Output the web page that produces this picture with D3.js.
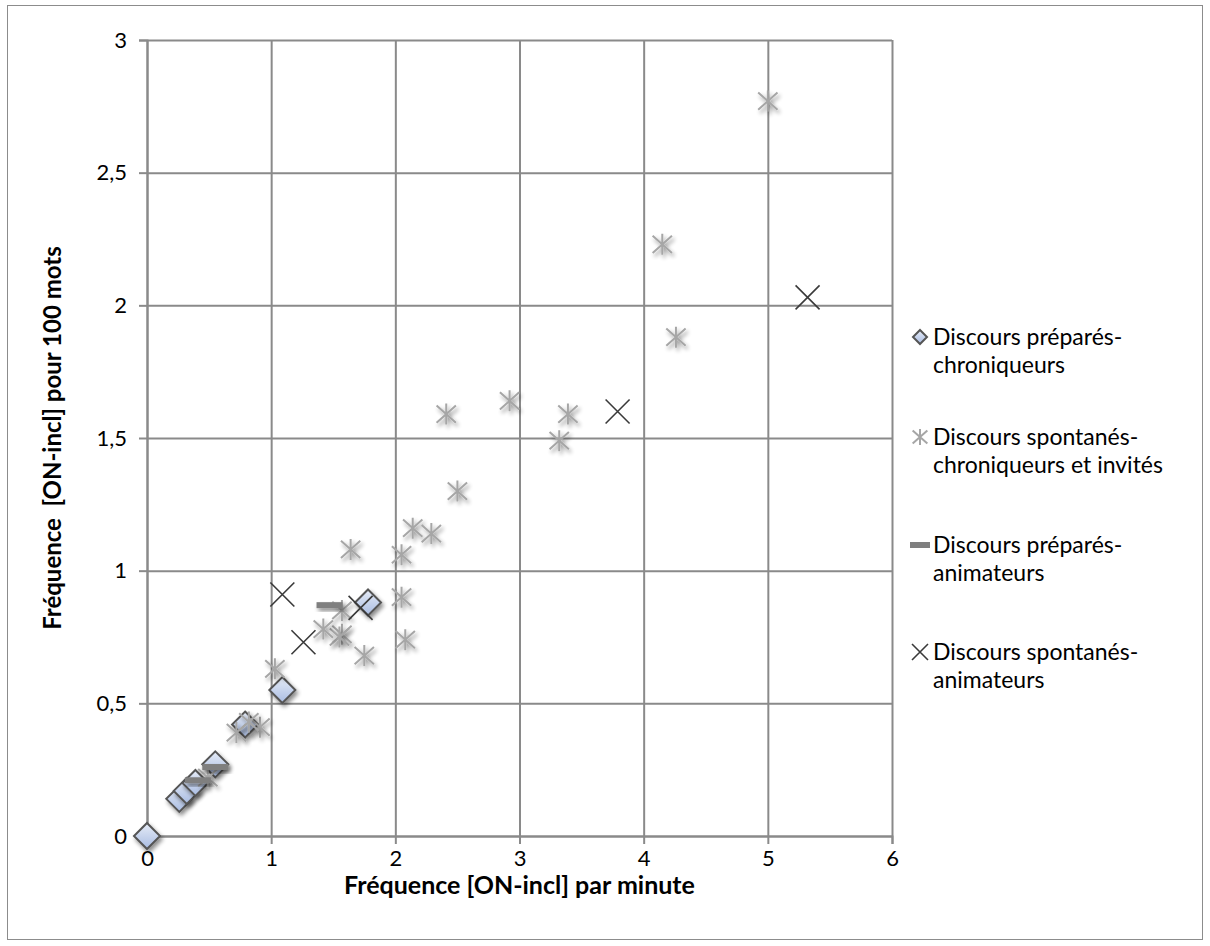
<!DOCTYPE html>
<html><head><meta charset="utf-8">
<script src="https://cdn.jsdelivr.net/npm/d3@7"></script>
<style>body{margin:0;background:#fff;} svg{display:block;font-family:Lato,'Open Sans',sans-serif;}</style>
</head><body><svg id="c" width="1210" height="946"></svg>
<script>
// ---- data ----
const seriesNames = [
  ["Discours préparés-", "chroniqueurs"],
  ["Discours spontanés-", "chroniqueurs et invités"],
  ["Discours préparés-", "animateurs"],
  ["Discours spontanés-", "animateurs"]
];
const prepChronX = [0, 0.26, 0.32, 0.39, 0.55, 0.79, 1.09, 1.78];
const prepChronY = [0, 0.14, 0.17, 0.20, 0.27, 0.42, 0.55, 0.88];
const spontChronX = [5.00, 4.15, 4.26, 2.41, 2.92, 3.39, 3.32, 2.50, 2.14, 2.29, 2.05, 1.64, 2.05, 2.08, 1.75, 1.57, 1.55, 1.57, 1.42, 1.03, 0.72, 0.91, 0.82, 0.49];
const spontChronY = [2.77, 2.23, 1.88, 1.59, 1.64, 1.59, 1.49, 1.30, 1.16, 1.14, 1.06, 1.08, 0.90, 0.74, 0.68, 0.76, 0.75, 0.85, 0.78, 0.63, 0.39, 0.41, 0.43, 0.22];
const prepAnimX = [0.41, 0.55, 1.47];
const prepAnimY = [0.21, 0.26, 0.87];
const spontAnimX = [5.32, 3.79, 1.09, 1.26, 1.72];
const spontAnimY = [2.03, 1.60, 0.91, 0.73, 0.86];
const xTicks = [0, 1, 2, 3, 4, 5, 6];
const xTickLabels = ["0", "1", "2", "3", "4", "5", "6"];
const yTicks = [0, 0.5, 1, 1.5, 2, 2.5, 3];
const yTickLabels = ["0", "0,5", "1", "1,5", "2", "2,5", "3"];
const xTitle = "Fréquence [ON-incl] par minute";
const yTitle = "Fréquence  [ON-incl] pour 100 mots";

// ---- layout ----
const svg = d3.select("#c");
const L = 147, R = 892, T = 40, B = 836;
const x = d3.scaleLinear().domain([0, 6]).range([L, R]);
const y = d3.scaleLinear().domain([0, 3]).range([B, T]);
const gridCol = "#8a8a8a";

const defs = svg.append("defs");
const f = defs.append("filter").attr("id", "sh").attr("x", "-60%").attr("y", "-60%").attr("width", "220%").attr("height", "220%");
f.append("feGaussianBlur").attr("in", "SourceAlpha").attr("stdDeviation", 2.2).attr("result", "b");
f.append("feOffset").attr("in", "b").attr("dx", 2).attr("dy", 3).attr("result", "o");
f.append("feComponentTransfer").attr("in", "o").attr("result", "s").append("feFuncA").attr("type", "linear").attr("slope", 0.45);
const fm = f.append("feMerge");
fm.append("feMergeNode").attr("in", "s");
fm.append("feMergeNode").attr("in", "SourceGraphic");
const g1 = defs.append("linearGradient").attr("id", "dg").attr("x1", 0).attr("y1", 0).attr("x2", 0).attr("y2", 1);
g1.append("stop").attr("offset", "0%").attr("stop-color", "#e6ecf7");
g1.append("stop").attr("offset", "100%").attr("stop-color", "#a9bce2");

// outer frame
svg.append("rect").attr("x", 7.5).attr("y", 5.5).attr("width", 1195).attr("height", 934)
  .attr("fill", "#fff").attr("stroke", "#8c8c8c").attr("stroke-width", 1);

// grid via axes
const xGrid = svg.append("g").attr("transform", `translate(0,${B})`)
  .call(d3.axisBottom(x).tickValues(xTicks).tickSize(-(B - T)).tickFormat(""));
const yGrid = svg.append("g").attr("transform", `translate(${L},0)`)
  .call(d3.axisLeft(y).tickValues(yTicks).tickSize(-(R - L)).tickFormat(""));
[xGrid, yGrid].forEach(g => { g.select(".domain").remove(); g.selectAll("line").attr("stroke", gridCol).attr("stroke-width", 2); });

// axes with ticks
const xAx = svg.append("g").attr("transform", `translate(0,${B})`)
  .call(d3.axisBottom(x).tickValues(xTicks).tickSize(8).tickPadding(6).tickFormat((d, i) => xTickLabels[i]));
const yAx = svg.append("g").attr("transform", `translate(${L},0)`)
  .call(d3.axisLeft(y).tickValues(yTicks).tickSize(8).tickPadding(12).tickFormat((d, i) => yTickLabels[i]));
[xAx, yAx].forEach(g => {
  g.select(".domain").attr("stroke", gridCol).attr("stroke-width", 2);
  g.selectAll("line").attr("stroke", gridCol).attr("stroke-width", 2);
  g.selectAll("text").attr("fill", "#000").style("font-size", "22px").style("font-family", "Lato, sans-serif");
});
xAx.selectAll("text").attr("y", 30).attr("dy", 0);

// titles
svg.append("text").attr("x", (L + R) / 2).attr("y", 894).attr("text-anchor", "middle")
  .style("font-weight", "bold").style("font-size", "25px").text(xTitle);
svg.append("text").attr("transform", `translate(61,${(T + B) / 2}) rotate(-90)`).attr("text-anchor", "middle")
  .style("font-weight", "bold").style("font-size", "24px").style("white-space", "pre").attr("xml:space", "preserve").text(yTitle);

// marker drawers
function diamond(g, r) {
  g.append("path").attr("d", `M0,${-r}L${r},0L0,${r}L${-r},0Z`).attr("fill", "url(#dg)").attr("stroke", "#555").attr("stroke-width", 2);
}
function asterisk(g, r) {
  const dx = r * 0.92, dy = r * 0.82;
  g.append("path").attr("d", `M0,${-r}V${r}M${-dx},${-dy}L${dx},${dy}M${-dx},${dy}L${dx},${-dy}`)
    .attr("stroke", "#a6a6a6").attr("stroke-width", 2).attr("fill", "none");
}
function dash(g, w) {
  g.append("rect").attr("x", -w / 2).attr("y", -3).attr("width", w).attr("height", 6).attr("fill", "#7f7f7f");
}
function cross(g, r) {
  g.append("path").attr("d", `M${-r},${-r}L${r},${r}M${-r},${r}L${r},${-r}`)
    .attr("stroke", "#3a3a3a").attr("stroke-width", 1.6).attr("fill", "none");
}

function plot(xs, ys, fn, size, shadow) {
  const g = svg.append("g");
  xs.forEach((xv, i) => {
    const m = g.append("g").attr("transform", `translate(${x(xv)},${y(ys[i])})`);
    if (shadow) m.attr("filter", "url(#sh)");
    fn(m, size);
  });
}
plot(prepChronX, prepChronY, diamond, 13, true);
plot(spontChronX, spontChronY, asterisk, 10.5, true);
plot(prepAnimX, prepAnimY, dash, 26, true);
plot(spontAnimX, spontAnimY, cross, 12, false);

// legend
const legY = [337, 437, 545, 652];
const legFns = [(g) => diamond(g, 7), (g) => asterisk(g, 8), (g) => dash(g, 20), (g) => cross(g, 8)];
seriesNames.forEach((lines, i) => {
  const m = svg.append("g").attr("transform", `translate(920,${legY[i]})`);
  legFns[i](m);
  lines.forEach((t, j) => {
    svg.append("text").attr("x", 933).attr("y", legY[i] + 8 + j * 28)
      .style("font-size", "23px").attr("fill", "#000").text(t);
  });
});
</script></body></html>
